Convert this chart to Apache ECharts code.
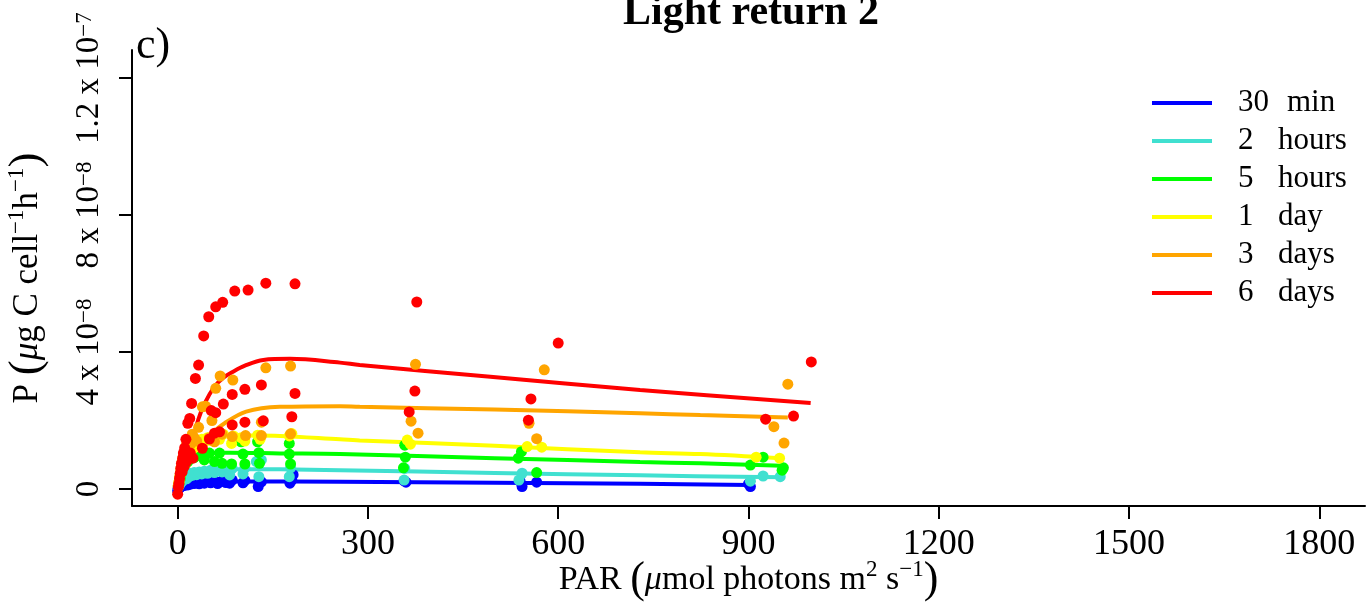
<!DOCTYPE html>
<html><head><meta charset="utf-8">
<script src="https://cdn.jsdelivr.net/npm/echarts@6/dist/echarts.min.js"></script>
<style>html,body{margin:0;padding:0;background:#fff}#c{width:1370px;height:603px}</style>
</head><body><div id="c"></div>
<script>
// values of P are in units of 1e-8 µg C cell^-1 h^-1
const seriesNames = ['30 min', '2 hours', '5 hours', '1 day', '3 days', '6 days'];
const seriesColors = ['#0000FF', '#40E0D0', '#00FF00', '#FFFF00', '#FFA500', '#FF0000'];
const xTicks = [0, 300, 600, 900, 1200, 1500, 1800];
const yTicks = [0, 4, 8, 12];
const yTickLabels = ['0', '4 x 10{s|\u22128}', '8 x 10{s|\u22128}', '1.2 x 10{s|\u22127}'];

const pts30min = [[0,-0.05],[1,0.02],[2,0.05],[3,0.03],[4,0.08],[5,0.06],[6,0.1],[7,0.09],[8,0.12],[10,0.1],[12,0.13],[14,0.15],[16,0.12],[18,0.17],[20,0.14],[23,0.18],[26,0.16],[30,0.2],[34,0.15],[38,0.21],[42,0.17],[47,0.22],[52,0.18],[58,0.23],[63,0.16],[70,0.24],[76,0.19],[82,0.17],[86,0.26],[103,0.18],[106,0.25],[127,0.07],[128,0.2],[132,0.21],[177,0.17],[180,0.26],[182,0.42],[357,0.24],[360,0.2],[543,0.07],[540,0.22],[566,0.2],[903,0.07],[900,0.15]];
const pts2h = [[1,0.05],[2,0.1],[3,0.12],[4,0.18],[5,0.2],[6,0.25],[7,0.22],[8,0.3],[10,0.32],[12,0.38],[14,0.3],[16,0.42],[18,0.36],[20,0.45],[23,0.4],[26,0.48],[30,0.42],[34,0.5],[38,0.44],[42,0.52],[47,0.46],[52,0.55],[58,0.48],[63,0.56],[70,0.5],[76,0.58],[82,0.41],[86,0.6],[103,0.44],[106,0.62],[124,0.8],[128,0.36],[129,0.77],[132,0.85],[176,0.36],[178,0.62],[357,0.26],[358,0.6],[543,0.46],[538,0.26],[923,0.38],[903,0.23],[950,0.36]];
const pts5h = [[1,0.08],[2,0.15],[3,0.25],[4,0.3],[5,0.42],[6,0.48],[7,0.55],[8,0.62],[10,0.7],[12,0.75],[14,0.85],[16,0.8],[18,0.95],[20,0.88],[23,1.02],[26,0.92],[30,1.06],[34,0.98],[38,1.08],[42,0.85],[47,1.04],[50,1.05],[58,0.8],[66,1.05],[70,0.75],[85,0.73],[100,1.38],[103,1.02],[106,0.73],[126,1.38],[128,1.06],[129,0.75],[176,1.33],[176,1.02],[178,0.73],[356,0.62],[358,1.28],[359,0.93],[542,1.09],[537,0.9],[566,0.48],[923,0.93],[903,0.70],[953,0.55],[955,0.62]];
const pts1d = [[1,0.1],[2,0.2],[3,0.3],[4,0.4],[5,0.5],[6,0.55],[7,0.65],[8,0.75],[10,0.85],[12,0.95],[14,1.05],[16,1.0],[18,1.15],[20,1.1],[23,1.25],[26,1.2],[30,1.35],[34,1.3],[38,1.45],[42,1.38],[47,1.5],[52,1.42],[58,1.55],[66,1.45],[72,1.6],[85,1.33],[88,1.55],[100,1.5],[106,1.4],[126,1.57],[130,1.45],[176,1.55],[180,1.62],[362,1.43],[367,1.31],[551,1.24],[574,1.22],[912,0.93],[949,0.90]];
const pts3d = [[1,0.1],[2,0.2],[3,0.35],[4,0.45],[5,0.6],[6,0.7],[7,0.8],[8,0.9],[10,1.0],[12,1.15],[14,1.3],[16,1.2],[18,1.4],[20,1.3],[23,1.6],[26,1.5],[30,1.4],[33,1.8],[39,2.4],[44,2.42],[50,1.5],[54,2.0],[58,1.38],[60,2.94],[67,3.30],[70,1.6],[87,3.18],[86,1.53],[107,1.56],[132,1.95],[132,1.56],[139,3.54],[178,3.59],[178,1.61],[375,3.64],[368,1.98],[379,1.63],[578,3.48],[554,1.92],[566,1.47],[962,3.06],[940,1.82],[956,1.34]];
const pts6d = [[0,-0.15],[1,0.05],[2,0.15],[3,0.3],[4,0.45],[5,0.6],[6,0.75],[7,0.5],[8,0.9],[9,1.05],[10,0.65],[11,1.2],[12,0.95],[13,1.45],[14,0.8],[16,1.92],[17,1.0],[19,2.06],[20,1.05],[22,2.5],[24,0.9],[28,3.23],[33,3.62],[39,1.19],[41,4.47],[49,5.03],[50,1.46],[53,2.29],[58,1.63],[60,2.23],[60,5.32],[66,1.67],[71,5.45],[72,2.48],[86,2.76],[86,1.87],[90,5.78],[106,2.91],[106,1.95],[111,5.81],[132,3.04],[135,1.99],[139,6.01],[180,2.11],[185,2.79],[185,5.99],[365,2.25],[374,2.86],[377,5.46],[553,2.01],[557,2.63],[600,4.26],[927,2.04],[971,2.13],[999,3.71]];

const fit30min = [[0,-0.05],[10,0.12],[25,0.19],[50,0.22],[100,0.22],[256,0.21],[500,0.18],[729,0.15],[903,0.12]];
const fit2h = [[0,0],[8,0.3],[20,0.48],[40,0.56],[80,0.58],[161,0.575],[256,0.55],[500,0.47],[729,0.40],[955,0.34]];
const fit5h = [[0,0],[8,0.55],[18,0.9],[30,1.02],[50,1.06],[82,1.06],[161,1.04],[256,1.02],[500,0.9],[729,0.79],[824,0.75],[953,0.68]];
const fit1d = [[0,0],[10,0.6],[20,1.1],[35,1.4],[55,1.52],[82,1.55],[120,1.56],[161,1.55],[256,1.45],[287,1.42],[500,1.26],[729,1.07],[824,1.02],[950,0.90]];
const fit3d = [[0,-0.1],[6,0.17],[20,0.78],[32,1.24],[48,1.53],[74,1.92],[108,2.26],[161,2.4],[256,2.42],[287,2.40],[500,2.32],[729,2.21],[824,2.16],[962,2.09]];
const fit6d = [[0,-0.2],[11,0.46],[21.6,1.24],[32,2.0],[42.6,2.5],[58,2.99],[72,3.25],[85,3.4],[106,3.6],[135,3.77],[177,3.8],[256,3.69],[287,3.62],[493,3.28],[729,2.89],[998,2.51]];

const allPts = [pts30min, pts2h, pts5h, pts1d, pts3d, pts6d];
const allFits = [fit30min, fit2h, fit5h, fit1d, fit3d, fit6d];

const FF = "'Liberation Serif','Times New Roman',serif";
const series = [];
allFits.forEach((d, i) => series.push({
  name: seriesNames[i], type: 'line', data: d, smooth: 0.35, showSymbol: false, symbol: 'none',
  lineStyle: { color: seriesColors[i], width: 4 }, itemStyle: { color: seriesColors[i] }, z: 2 + i * 0.01, silent: true
}));
allPts.forEach((d, i) => series.push({
  name: seriesNames[i], type: 'scatter', data: d, symbolSize: 11,
  itemStyle: { color: seriesColors[i], opacity: 1 }, z: 3 + i * 0.01, silent: true
}));

const chart = echarts.init(document.getElementById('c'), null, { renderer: 'canvas' });
chart.setOption({
  animation: false,
  backgroundColor: '#fff',
  title: [
    { text: 'Light return 2', left: 746, textAlign: 'center', top: -13,
      textStyle: { fontFamily: FF, fontSize: 42, fontWeight: 'bold', color: '#000' } },
    { text: 'c)', left: 131, top: 19,
      textStyle: { fontFamily: FF, fontSize: 44, fontWeight: 'normal', color: '#000' } }
  ],
  legend: {
    orient: 'vertical', left: 1152, top: 84, padding: 0, itemWidth: 60, itemHeight: 4, itemGap: 0,
    icon: 'rect', data: seriesNames, selectedMode: false,
    textStyle: { fontFamily: FF, fontSize: 31, color: '#000', lineHeight: 38, padding: [0, 0, 0, 21],
      rich: {
        n: { width: 40, fontFamily: FF, fontSize: 31, color: '#000' },
        n2: { width: 49, fontFamily: FF, fontSize: 31, color: '#000' },
        u: { fontFamily: FF, fontSize: 31, color: '#000' }
      } },
    formatter: (name) => {
      const parts = name.split(' ');
      return '{' + (parts[0].length > 1 ? 'n2' : 'n') + '|' + parts[0] + '}{u|' + parts[1] + '}';
    }
  },
  grid: { left: 132, right: 5, top: 50, bottom: 97, containLabel: false, outerBoundsMode: 'none' },
  xAxis: {
    type: 'value', min: -72, max: 1872,
    axisLine: { show: true, onZero: false, lineStyle: { color: '#000', width: 2 } },
    axisTick: { show: true, customValues: xTicks, length: 13, lineStyle: { color: '#000', width: 2 } },
    axisLabel: { customValues: xTicks, fontFamily: FF, fontSize: 36, color: '#000', margin: 21,
      formatter: (v) => String(v) },
    splitLine: { show: false },
    name: '{a|PAR }{p|(}{i|\u03bc}{a|mol photons m}{s|2}{a| s}{s|\u22121}{p|)}',
    nameLocation: 'middle', nameGap: 52, nameMoveOverlap: false,
    nameTextStyle: { fontFamily: FF, fontSize: 34, color: '#000',
      rich: {
        a: { fontFamily: FF, fontSize: 34, color: '#000' },
        i: { fontFamily: FF, fontSize: 34, color: '#000', fontStyle: 'italic' },
        p: { fontFamily: FF, fontSize: 44, color: '#000' },
        s: { fontFamily: FF, fontSize: 23, color: '#000', verticalAlign: 'top' }
      } }
  },
  yAxis: {
    type: 'value', min: -0.496, max: 12.818,
    axisLine: { show: true, onZero: false, lineStyle: { color: '#000', width: 2 } },
    axisTick: { show: true, customValues: yTicks, length: 13, lineStyle: { color: '#000', width: 2 } },
    axisLabel: { customValues: yTicks, rotate: 90, fontFamily: FF, fontSize: 33, color: '#000', margin: 26,
      formatter: (v) => { const k = yTicks.indexOf(v); return k >= 0 ? yTickLabels[k] : ''; },
      rich: { s: { fontFamily: FF, fontSize: 23, color: '#000', verticalAlign: 'top' } } },
    splitLine: { show: false },
    name: '{a|P }{p|(}{i|\u03bc}{a|g C cell}{s|\u22121}{a|h}{s|\u22121}{p|)}',
    nameLocation: 'middle', nameGap: 82, nameMoveOverlap: false,
    nameTextStyle: { fontFamily: FF, fontSize: 35, color: '#000',
      rich: {
        a: { fontFamily: FF, fontSize: 35, color: '#000' },
        i: { fontFamily: FF, fontSize: 35, color: '#000', fontStyle: 'italic' },
        p: { fontFamily: FF, fontSize: 45, color: '#000' },
        s: { fontFamily: FF, fontSize: 23, color: '#000', verticalAlign: 'top' }
      } }
  },
  series: series
});
</script></body></html>
